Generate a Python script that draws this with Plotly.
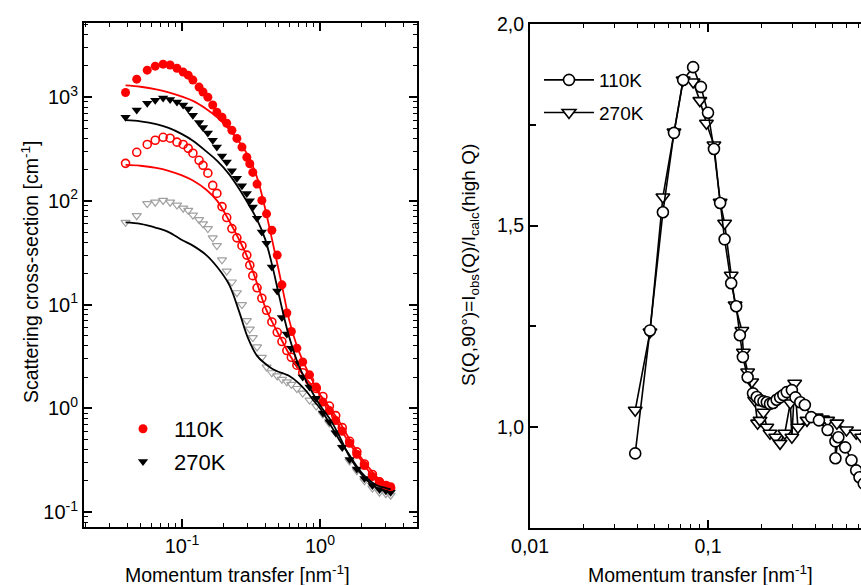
import plotly.graph_objects as go

# ---------------- Left panel data ----------------
q_left = [0.039, 0.047, 0.056, 0.064, 0.073, 0.082, 0.092, 0.102, 0.111, 0.120,
          0.133, 0.142, 0.154, 0.167, 0.179, 0.195, 0.211, 0.230, 0.250, 0.272,
          0.295, 0.310, 0.326, 0.350, 0.379, 0.41, 0.448, 0.49, 0.53, 0.575,
          0.62, 0.68, 0.75, 0.84, 0.94, 1.05, 1.17, 1.30, 1.45, 1.64,
          1.85, 2.1, 2.4, 2.7, 3.0, 3.25]

i_110_a = [1110, 1490, 1820, 1990, 2080, 2040, 1900, 1745, 1630, 1460,
           1250, 1120, 1000, 840, 715, 640, 560, 480, 400, 330,
           263, 228, 188, 145, 101, 75, 52, 30, 15.5, 8.3,
           5.5, 3.8, 2.8, 2.1, 1.6, 1.15, 0.95, 0.76, 0.6, 0.46,
           0.36, 0.28, 0.22, 0.195, 0.18, 0.175]

i_270_a = [640, 750, 875, 935, 980, 950, 900, 840, 770, 670,
           570, 510, 450, 384, 330, 270, 237, 195, 165, 140,
           118, 100, 87, 68, 50, 39, 23, 13.5, 7.5, 5.2,
           3.8, 2.7, 2.0, 1.6, 1.25, 0.9, 0.74, 0.58, 0.42, 0.32,
           0.26, 0.21, 0.18, 0.165, 0.16, 0.155]

i_110_b = [230, 294, 350, 384, 410, 402, 368, 350, 321, 288,
           246, 220, 185, 141, 118, 88, 69, 54, 44, 37,
           30, 24, 19, 14.5, 11.5, 8.8, 6.8, 5.4, 4.4, 3.6,
           3.1, 2.6, 2.2, 1.85, 1.55, 1.3, 1.05, 0.85, 0.65, 0.48,
           0.38, 0.29, 0.23, 0.195, 0.18, 0.17]

i_270_b = [62, 72, 94, 97, 101, 97, 91, 85, 81, 73,
           66, 60, 54, 44, 37, 27, 21, 16.5, 13, 10,
           7, 5.8, 4.8, 3.9, 3.1, 2.5, 2.2, 2.05, 1.9, 1.8,
           1.7, 1.55, 1.4, 1.2, 1.05, 0.88, 0.72, 0.58, 0.42, 0.31,
           0.25, 0.2, 0.17, 0.155, 0.15, 0.145]

q_fit = [0.039, 0.05, 0.065, 0.08, 0.1, 0.12, 0.15, 0.18, 0.22, 0.26,
         0.3, 0.35, 0.4, 0.45, 0.5, 0.55, 0.6, 0.7, 0.8, 0.9,
         1.0, 1.2, 1.4, 1.6, 1.8, 2.0, 2.3, 2.6, 3.0, 3.25]

fit_110_a = [1300, 1260, 1190, 1110, 1010, 920, 770, 640, 490, 370,
             275, 168, 85, 42, 22, 12, 7, 3.6, 2.4, 1.75,
             1.35, 0.92, 0.65, 0.48, 0.38, 0.31, 0.24, 0.205, 0.185, 0.178]

fit_270_a = [600, 585, 550, 505, 440, 380, 300, 243, 180, 130,
             95, 66, 43, 24, 13, 7.5, 4.8, 2.6, 1.8, 1.35,
             1.07, 0.76, 0.52, 0.36, 0.28, 0.23, 0.19, 0.17, 0.16, 0.155]

fit_110_b = [222, 218, 208, 195, 176, 157, 128, 100, 64, 42,
             28, 16, 9.5, 6.8, 5.2, 4.1, 3.3, 2.4, 1.9, 1.6,
             1.35, 0.98, 0.72, 0.53, 0.41, 0.33, 0.26, 0.215, 0.19, 0.18]

fit_270_b = [62, 60, 55, 50, 42, 37, 30, 23, 15.5, 8.5,
             4.8, 3.2, 2.7, 2.4, 2.25, 2.15, 2.05, 1.75, 1.45, 1.18,
             1.0, 0.68, 0.48, 0.37, 0.29, 0.24, 0.2, 0.18, 0.17, 0.165]

# ---------------- Right panel data ----------------
q_s110 = [0.039, 0.0472, 0.0558, 0.0644, 0.0725, 0.0825, 0.0912, 0.100, 0.108, 0.117,
          0.124, 0.135, 0.144, 0.151, 0.157, 0.167, 0.179, 0.188, 0.196, 0.205,
          0.214, 0.223, 0.232, 0.243, 0.254, 0.265, 0.277, 0.296, 0.31, 0.33,
          0.35, 0.38, 0.42, 0.47, 0.52, 0.52, 0.54, 0.59, 0.64, 0.68, 0.71, 0.75]
s_110 = [0.935, 1.24, 1.533, 1.73, 1.861, 1.893, 1.844, 1.78, 1.69, 1.556,
         1.466, 1.357, 1.30, 1.228, 1.174, 1.124, 1.084, 1.075, 1.067, 1.064,
         1.062, 1.058, 1.06, 1.068, 1.074, 1.08, 1.087, 1.092, 1.074, 1.062,
         1.055, 1.025, 1.017, 0.993, 0.965, 0.923, 0.975, 0.95, 0.918, 0.893, 0.876, 0.86]

q_s270 = [0.039, 0.0472, 0.0558, 0.0644, 0.0725, 0.0825, 0.090, 0.098, 0.108, 0.117,
          0.124, 0.135, 0.142, 0.155, 0.158, 0.167, 0.176, 0.183, 0.19, 0.196,
          0.205, 0.214, 0.223, 0.24, 0.254, 0.27, 0.29, 0.296, 0.307, 0.32,
          0.36, 0.405, 0.44, 0.47, 0.53, 0.6, 0.68, 0.73]
s_270 = [1.042, 1.236, 1.571, 1.732, 1.861, 1.856, 1.81, 1.754, 1.70, 1.558,
         1.506, 1.377, 1.303, 1.24, 1.186, 1.137, 1.112, 1.067, 1.01, 1.017,
         1.037, 1.0, 0.985, 0.975, 0.96, 0.985, 1.06, 0.975, 1.109, 1.0,
         1.017, 1.025, 1.02, 1.017, 1.01, 0.993, 0.985, 0.975]

left_yticks = [0.1, 1, 10, 100, 1000]
left_yticktext = ["10<sup>-1</sup>", "10<sup>0</sup>", "10<sup>1</sup>", "10<sup>2</sup>", "10<sup>3</sup>"]
left_xticks = [0.1, 1]
left_xticktext = ["10<sup>-1</sup>", "10<sup>0</sup>"]
right_xticks = [0.01, 0.1, 1]
right_xticktext = ["0,01", "0,1", "1"]
right_yticks = [1.0, 1.5, 2.0]
right_yticktext = ["1,0", "1,5", "2,0"]

FONT = "Liberation Sans, Arial, Helvetica, sans-serif"
W, H = 861, 585


def minor_log(lo, hi):
    vals = []
    for e in range(lo, hi + 1):
        for m in range(2, 10):
            vals.append(m * 10 ** e)
    return vals


fig = go.Figure()

RED = "#ff0000"
# data markers (left)
fig.add_trace(go.Scatter(x=q_left, y=i_270_b, mode="markers", xaxis="x", yaxis="y",
                         marker=dict(symbol="triangle-down-open", size=8,
                                     color="#a0a0a0", line=dict(width=1.2, color="#a0a0a0")),
                         showlegend=False))
fig.add_trace(go.Scatter(x=q_left, y=i_110_b, mode="markers", xaxis="x", yaxis="y",
                         marker=dict(symbol="circle-open", size=8,
                                     color=RED, line=dict(width=1.6, color=RED)),
                         showlegend=False))
fig.add_trace(go.Scatter(x=q_left, y=i_270_a, mode="markers", xaxis="x", yaxis="y",
                         marker=dict(symbol="triangle-down", size=9, color="black"),
                         name="270K", legend="legend", legendgroup="b", legendrank=2))
fig.add_trace(go.Scatter(x=q_left, y=i_110_a, mode="markers", xaxis="x", yaxis="y",
                         marker=dict(symbol="circle", size=9, color=RED),
                         name="110K", legend="legend", legendgroup="a", legendrank=1))
# fits (left)
for fy, col in [(fit_270_b, "black"), (fit_110_b, RED), (fit_270_a, "black"), (fit_110_a, RED)]:
    fig.add_trace(go.Scatter(x=q_fit, y=fy, mode="lines", xaxis="x", yaxis="y",
                             line=dict(color=col, width=1.8, shape="spline"),
                             showlegend=False))

# right panel
fig.add_trace(go.Scatter(x=q_s270, y=s_270, mode="lines+markers", xaxis="x2", yaxis="y2",
                         line=dict(color="black", width=1.6),
                         marker=dict(symbol="triangle-down", size=12, color="white",
                                     line=dict(color="black", width=1.6)),
                         name="270K", legend="legend2", legendgroup="d", legendrank=2))
fig.add_trace(go.Scatter(x=q_s110, y=s_110, mode="lines+markers", xaxis="x2", yaxis="y2",
                         line=dict(color="black", width=1.6),
                         marker=dict(symbol="circle", size=11, color="white",
                                     line=dict(color="black", width=1.6)),
                         name="110K", legend="legend2", legendgroup="c", legendrank=1))

axis_common = dict(showline=True, linecolor="black", linewidth=2, ticks="inside",
                   tickcolor="black", tickwidth=1.5, ticklen=8, showgrid=False,
                   zeroline=False, automargin=False)

L0, L1 = 84 / W, 417 / W
R0, R1 = 530 / W, 1.0
yb_l, yt_l = 1 - 527 / H, 1 - 23 / H
yb_r, yt_r = 1 - 528 / H, 1 - 24 / H

tf_left = dict(family=FONT, size=20, color="black")
tf_right = dict(family=FONT, size=19.5, color="black")

fig.update_layout(
    width=W, height=H, margin=dict(l=0, r=0, t=0, b=0, autoexpand=False),
    paper_bgcolor="white", plot_bgcolor="white",
    font=dict(family=FONT, color="black"),
    xaxis=dict(type="log", range=[-1.71, 0.703], domain=[L0, L1], anchor="y",
               tickmode="array", tickvals=left_xticks, ticktext=left_xticktext,
               mirror="allticks", tickfont=tf_left,
               minor=dict(tickmode="array", tickvals=minor_log(-2, 0), ticks="inside",
                          ticklen=4, tickcolor="black", tickwidth=1.2),
               **axis_common),
    yaxis=dict(type="log", range=[-1.145, 3.715], domain=[yb_l, yt_l], anchor="x",
               tickmode="array", tickvals=left_yticks, ticktext=left_yticktext,
               mirror="allticks", tickfont=tf_left,
               minor=dict(tickmode="array", tickvals=minor_log(-2, 3), ticks="inside",
                          ticklen=4, tickcolor="black", tickwidth=1.2),
               **axis_common),
    xaxis2=dict(type="log", range=[-2, -0.1404], domain=[R0, R1], anchor="y2",
                tickmode="array", tickvals=right_xticks, ticktext=right_xticktext,
                mirror="allticks", tickfont=tf_right,
                minor=dict(tickmode="array", tickvals=minor_log(-2, 0), ticks="inside",
                           ticklen=4, tickcolor="black", tickwidth=1.2),
                **axis_common),
    yaxis2=dict(range=[0.75, 2.0], domain=[yb_r, yt_r], anchor="x2",
                tickmode="array", tickvals=right_yticks, ticktext=right_yticktext,
                mirror=False, tickfont=tf_right,
                minor=dict(tickmode="array", tickvals=[1.25, 1.75], ticks="inside",
                           ticklen=6, tickcolor="black", tickwidth=1.5),
                **axis_common),
    legend=dict(x=112 / W, y=1 - 408 / H, xanchor="left", yanchor="top",
                bgcolor="rgba(0,0,0,0)", font=dict(family=FONT, size=22, color="black"),
                tracegroupgap=1, itemwidth=52),
    legend2=dict(x=539 / W, y=1 - 61 / H, xanchor="left", yanchor="top",
                 bgcolor="rgba(0,0,0,0)", font=dict(family=FONT, size=19, color="black"),
                 tracegroupgap=5, itemwidth=50),
    annotations=[
        dict(text="Scattering cross-section [cm<sup>-1</sup>]", x=30 / W, y=1 - 272 / H,
             xref="paper", yref="paper", xanchor="center", yanchor="middle",
             showarrow=False, textangle=-90,
             font=dict(family=FONT, size=19.5, color="black")),
        dict(text="Momentum transfer [nm<sup>-1</sup>]", x=237 / W, y=1 - 574 / H,
             xref="paper", yref="paper", xanchor="center", yanchor="middle",
             showarrow=False, font=dict(family=FONT, size=19.5, color="black")),
        dict(text="Momentum transfer [nm<sup>-1</sup>]", x=700 / W, y=1 - 574 / H,
             xref="paper", yref="paper", xanchor="center", yanchor="middle",
             showarrow=False, font=dict(family=FONT, size=19.5, color="black")),
        dict(text="S(Q,90°)=I<sub>obs</sub>(Q)/I<sub>calc</sub>(high Q)", x=470 / W, y=1 - 265 / H,
             xref="paper", yref="paper", xanchor="center", yanchor="middle",
             showarrow=False, textangle=-90,
             font=dict(family=FONT, size=19, color="black")),
    ],
)

fig.write_html("out.html")
